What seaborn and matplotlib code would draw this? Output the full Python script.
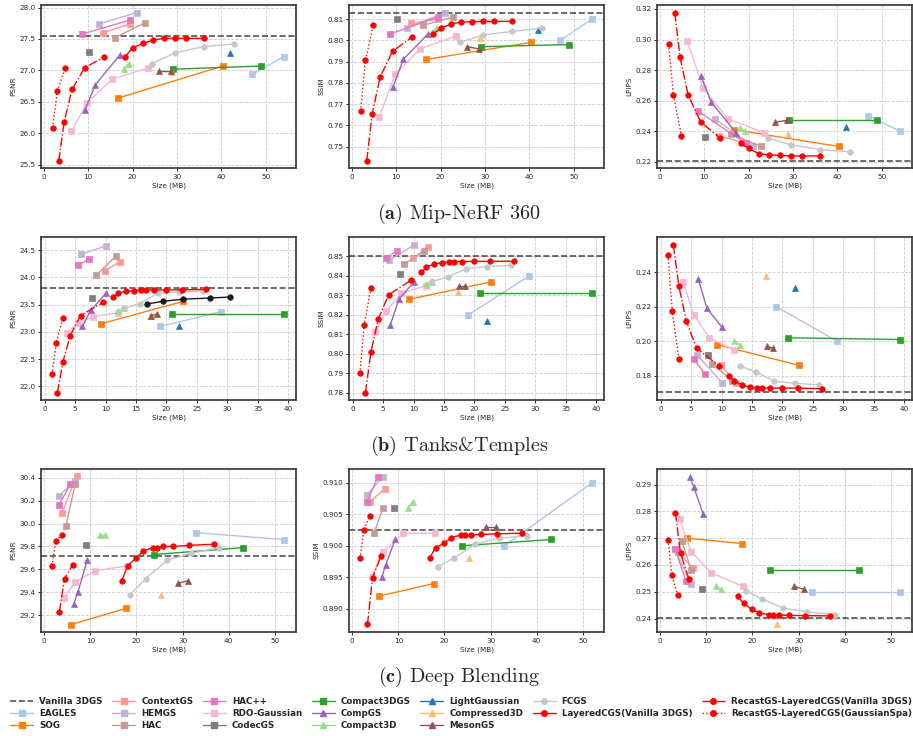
import numpy as np
import pandas as pd
import matplotlib
matplotlib.use("Agg")
import matplotlib.pyplot as plt
import seaborn as sns
from matplotlib.lines import Line2D

# ==============================
# Data
# ==============================

datasets = ["Mip-NeRF 360", "Tanks&Temples", "Deep Blending"]
captions = ["(a)", "(b)", "(c)"]
metrics = ["PSNR", "SSIM", "LPIPS"]

vanilla_psnr = [27.55, 23.80, 29.72]
vanilla_ssim = [0.813, 0.8502, 0.9025]
vanilla_lpips = [0.2205, 0.1705, 0.2404]

# each method: one (size, psnr, ssim, lpips) tuple per dataset
eagles = [
    ([47.0, 54.1], [26.94, 27.22], [0.800, 0.810], [0.250, 0.240]),
    ([19.0, 29.0], [23.10, 23.37], [0.820, 0.840], [0.220, 0.200]),
    ([33.0, 52.0], [29.92, 29.86], [0.900, 0.910], [0.250, 0.250]),
]
sog = [
    ([16.7, 40.3], [26.56, 27.07], [0.791, 0.799], [0.241, 0.230]),
    ([9.3, 22.8], [23.15, 23.56], [0.828, 0.837], [0.198, 0.186]),
    ([5.8, 17.7], [29.12, 29.26], [0.892, 0.894], [0.270, 0.268]),
]
contextgs = [
    ([13.3, 19.5], [27.60, 27.74], [0.808, 0.810], [0.237, 0.232]),
    ([9.9, 12.4], [24.12, 24.29], [0.849, 0.855], [0.186, 0.176]),
    ([3.8, 7.0], [30.09, 30.41], [0.907, 0.909], [0.265, 0.259]),
]
hemgs = [
    ([12.5, 21.0], [27.74, 27.92], [0.806, 0.813], [0.248, 0.230]),
    ([6.0, 10.1], [24.42, 24.58], [0.848, 0.856], [0.192, 0.176]),
    ([3.1, 6.7], [30.24, 30.37], [0.908, 0.911], [0.266, 0.253]),
]
hac = [
    ([16.0, 22.9], [27.52, 27.76], [0.807, 0.811], [0.238, 0.230]),
    ([8.5, 11.8], [24.04, 24.40], [0.846, 0.853], [0.187, 0.177]),
    ([4.7, 6.7], [29.98, 30.34], [0.902, 0.906], [0.269, 0.258]),
]
hacpp = [
    ([8.7, 19.4], [27.58, 27.80], [0.803, 0.811], [0.253, 0.232]),
    ([5.4, 7.3], [24.22, 24.33], [0.849, 0.853], [0.190, 0.181]),
    ([3.2, 5.6], [30.16, 30.34], [0.907, 0.911], [0.266, 0.254]),
]
rdo = [
    ([6.2, 9.8, 15.4, 23.5], [26.03, 26.49, 26.86, 27.04],
     [0.764, 0.784, 0.796, 0.802], [0.299, 0.268, 0.248, 0.239]),
    ([3.7, 5.5, 8.0, 12.0], [22.98, 23.16, 23.28, 23.35],
     [0.811, 0.822, 0.831, 0.835], [0.234, 0.215, 0.202, 0.195]),
    ([4.2, 6.7, 11.1, 18.0], [29.35, 29.49, 29.59, 29.63],
     [0.895, 0.899, 0.902, 0.902], [0.277, 0.265, 0.257, 0.252]),
]
codecgs = [
    ([10.3], [27.29], [0.810], [0.236]),
    ([7.8], [23.63], [0.841], [0.192]),
    ([9.1], [29.81], [0.906], [0.251]),
]
compact3dgs = [
    ([29.1, 48.9], [27.02, 27.07], [0.797, 0.798], [0.247, 0.247]),
    ([20.9, 39.4], [23.32, 23.32], [0.831, 0.831], [0.202, 0.201]),
    ([23.8, 43.2], [29.73, 29.79], [0.900, 0.901], [0.258, 0.258]),
]
compgs = [
    ([9.3, 11.6, 17.2], [26.37, 26.77, 27.25], [0.778, 0.791, 0.803], [0.276, 0.259, 0.239]),
    ([6.2, 7.6, 10.1], [23.10, 23.40, 23.71], [0.815, 0.828, 0.837], [0.236, 0.219, 0.208]),
    ([6.4, 7.3, 9.3], [29.30, 29.40, 29.68], [0.895, 0.897, 0.901], [0.293, 0.289, 0.279]),
]
compact3d = [
    ([18.1, 19.1], [27.02, 27.11], [0.804, 0.806], [0.242, 0.240]),
    ([12.1, 13.0], [23.39, 23.43], [0.836, 0.837], [0.200, 0.198]),
    ([12.1, 13.1], [29.90, 29.90], [0.906, 0.907], [0.252, 0.251]),
]
lightgaussian = [
    ([42.0], [27.28], [0.805], [0.243]),
    ([22.0], [23.10], [0.817], [0.231]),
    ([], [], [], []),
]
compressed3d = [
    ([28.8], [26.98], [0.801], [0.238]),
    ([17.3], [23.29], [0.832], [0.238]),
    ([25.3], [29.38], [0.898], [0.238]),
]
mesongs = [
    ([26.0, 28.6], [26.99, 26.99], [0.797, 0.796], [0.246, 0.247]),
    ([17.4, 18.5], [23.30, 23.32], [0.835, 0.835], [0.197, 0.196]),
    ([29.0, 31.1], [29.48, 29.50], [0.903, 0.903], [0.252, 0.251]),
]
fcgs = [
    ([24.3, 29.6, 36.1, 42.9], [27.11, 27.28, 27.38, 27.42],
     [0.799, 0.8025, 0.8042, 0.8058], [0.2355, 0.231, 0.228, 0.2265]),
    ([13.1, 15.6, 18.7, 22.1, 26.0], [23.43, 23.52, 23.71, 23.73, 23.75],
     [0.8372, 0.8395, 0.8437, 0.8448, 0.8455], [0.1855, 0.1823, 0.1769, 0.1756, 0.1748]),
    ([18.6, 22.0, 26.7, 31.8, 38.0], [29.38, 29.52, 29.68, 29.74, 29.79],
     [0.8967, 0.898, 0.9003, 0.9012, 0.9016], [0.2504, 0.2474, 0.2439, 0.2425, 0.2414]),
]
layered = [
    ([18.4, 20.0, 22.4, 24.5, 27.0, 29.6, 32.1, 36.2],
     [27.22, 27.36, 27.43, 27.48, 27.51, 27.51, 27.51, 27.51],
     [0.803, 0.8056, 0.8077, 0.8085, 0.8088, 0.8089, 0.8089, 0.8089],
     [0.2322, 0.2287, 0.2252, 0.2246, 0.2241, 0.2239, 0.2237, 0.2239]),
    ([11.3, 12.1, 13.4, 14.6, 15.8, 16.7, 18.0, 19.9, 22.6, 26.5],
     [23.64, 23.71, 23.75, 23.75, 23.77, 23.77, 23.77, 23.77, 23.77, 23.78],
     [0.8418, 0.8444, 0.8461, 0.8468, 0.8472, 0.8474, 0.8474, 0.8475, 0.8475, 0.8476],
     [0.1798, 0.1769, 0.1746, 0.1735, 0.1729, 0.1729, 0.1729, 0.1729, 0.1729, 0.1725]),
    ([16.8, 18.1, 19.9, 21.5, 23.5, 24.4, 25.8, 28.0, 31.4, 36.9],
     [29.50, 29.63, 29.70, 29.76, 29.79, 29.79, 29.80, 29.80, 29.81, 29.82],
     [0.8981, 0.8997, 0.9004, 0.9013, 0.9017, 0.9017, 0.9017, 0.9018, 0.9019, 0.902],
     [0.2483, 0.2457, 0.2434, 0.2422, 0.2414, 0.2414, 0.2413, 0.2412, 0.2411, 0.241]),
]
recast_vanilla = [
    ([3.4, 4.6, 6.4, 9.2, 13.5], [25.56, 26.18, 26.70, 27.04, 27.21],
     [0.7434, 0.7653, 0.7827, 0.7948, 0.8014], [0.3176, 0.2884, 0.2638, 0.2462, 0.2357]),
    ([2.1, 3.0, 4.2, 5.9, 9.6], [21.88, 22.45, 22.93, 23.30, 23.54],
     [0.780, 0.8008, 0.8178, 0.8302, 0.8378], [0.2555, 0.2318, 0.2118, 0.1961, 0.1855]),
    ([3.3, 4.4, 6.2], [29.23, 29.52, 29.64], [0.8875, 0.8949, 0.8983], [0.2795, 0.2643, 0.2549]),
]
recast_spa = [
    ([2.0, 3.1, 4.9], [26.09, 26.68, 27.04], [0.7667, 0.7906, 0.8073], [0.2969, 0.2636, 0.2370]),
    ([1.2, 1.9, 3.0], [22.22, 22.79, 23.26], [0.790, 0.8148, 0.8339], [0.2498, 0.2176, 0.1898]),
    ([1.7, 2.5, 3.8], [29.63, 29.85, 29.90], [0.898, 0.9025, 0.9047], [0.2693, 0.2561, 0.2488]),
]

# extra unlabeled black curve (Tanks&Temples, PSNR only)
black_tnt_size = [16.8, 19.4, 22.8, 27.2, 30.5]
black_tnt_psnr = [23.51, 23.56, 23.60, 23.62, 23.64]

# ==============================
# Styles
# ==============================

methods = [
    ("EAGLES", eagles, "#aec7e8", "s", "-"),
    ("SOG", sog, "#ff7f0e", "s", "-"),
    ("ContextGS", contextgs, "#ff9896", "s", "-"),
    ("HEMGS", hemgs, "#c5b0d5", "s", "-"),
    ("HAC", hac, "#c49c94", "s", "-"),
    ("HAC++", hacpp, "#e377c2", "s", "-"),
    ("RDO-Gaussian", rdo, "#f7b6d2", "s", "-"),
    ("CodecGS", codecgs, "#7f7f7f", "s", "-"),
    ("Compact3DGS", compact3dgs, "#2ca02c", "s", "-"),
    ("CompGS", compgs, "#9467bd", "^", "-"),
    ("Compact3D", compact3d, "#98df8a", "^", "-"),
    ("LightGaussian", lightgaussian, "#1f77b4", "^", "-"),
    ("Compressed3D", compressed3d, "#ffbb78", "^", "-"),
    ("MesonGS", mesongs, "#8c564b", "^", "-"),
    ("FCGS", fcgs, "#c7c7c7", "o", "-"),
    ("LayeredCGS(Vanilla 3DGS)", layered, "#ff0000", "o", "-"),
    ("RecastGS-LayeredCGS(Vanilla 3DGS)", recast_vanilla, "#ff0000", "o", "-."),
    ("RecastGS-LayeredCGS(GaussianSpa)", recast_spa, "#ff0000", "o", ":"),
]

vanilla = {"PSNR": vanilla_psnr, "SSIM": vanilla_ssim, "LPIPS": vanilla_lpips}

xlims = [(-0.6, 56.8), (-0.6, 41.3), (-0.7, 54.6)]
xticks = [np.arange(0, 51, 10), np.arange(0, 41, 5), np.arange(0, 51, 10)]
ylims = [
    [(25.45, 28.04), (0.740, 0.8166), (0.2159, 0.3226)],
    [(21.75, 24.74), (0.7763, 0.860), (0.166, 0.2603)],
    [(29.055, 30.475), (0.8863, 0.9122), (0.235, 0.2958)],
]
yticks = [
    [np.arange(25.5, 28.01, 0.5), np.arange(0.75, 0.8101, 0.01), np.arange(0.22, 0.3201, 0.02)],
    [np.arange(22.0, 24.51, 0.5), np.arange(0.78, 0.8501, 0.01), np.arange(0.18, 0.2401, 0.02)],
    [np.arange(29.2, 30.41, 0.2), np.arange(0.890, 0.9101, 0.005), np.arange(0.24, 0.2901, 0.01)],
]
yfmt = [
    ["{:.1f}", "{:.2f}", "{:.2f}"],
    ["{:.1f}", "{:.2f}", "{:.2f}"],
    ["{:.1f}", "{:.3f}", "{:.2f}"],
]

# ==============================
# Figure
# ==============================

sns.set_theme(style="ticks")
plt.rcParams["font.family"] = ["DejaVu Sans"]
plt.rcParams["mathtext.fontset"] = "cm"

fig = plt.figure(figsize=(9.13, 7.36), dpi=100)

lefts = [41 / 913, 349 / 913, 657 / 913]
bottoms = [1 - 168 / 736, 1 - 400 / 736, 1 - 632 / 736]
w, h = 255 / 913, 163 / 736

for d in range(3):
    for m, metric in enumerate(metrics):
        ax = fig.add_axes([lefts[m], bottoms[d], w, h])
        ax.axhline(vanilla[metric][d], color="k", ls="--", lw=1.2, alpha=0.75, zorder=2)

        for name, data, color, marker, ls in methods:
            size = data[d][0]
            vals = data[d][1 + m]
            if len(size) == 0:
                continue
            z = 5 if color == "#ff0000" else 3
            sns.lineplot(x=size, y=vals, ax=ax, color=color, marker=marker,
                         linestyle=ls, lw=1.0, markersize=4.0, mec=color, mew=0.5,
                         estimator=None, sort=False, legend=False, zorder=z)

        if d == 1 and metric == "PSNR":
            sns.lineplot(x=black_tnt_size, y=black_tnt_psnr, ax=ax, color="k",
                         marker="o", lw=1.0, markersize=4.0, mec="k", mew=0.5,
                         estimator=None, sort=False, legend=False, zorder=3)

        ax.set_xlim(*xlims[d])
        ax.set_ylim(*ylims[d][m])
        ax.set_xticks(xticks[d])
        ax.set_yticks(yticks[d][m])
        ax.set_yticklabels([yfmt[d][m].format(v) for v in yticks[d][m]])
        ax.set_xlabel("Size (MB)", fontsize=5.2, labelpad=2)
        ax.set_ylabel(metric, fontsize=5.2, labelpad=2)
        ax.tick_params(labelsize=5.2, length=2.5, width=0.7, pad=1.5)
        ax.grid(True, ls="--", lw=0.6, color="#cccccc")
        for sp in ax.spines.values():
            sp.set_color("#333333")
            sp.set_linewidth(1.2)

    cap_y = [1 - 214 / 736, 1 - 446 / 736, 1 - 677 / 736][d]
    fig.text(0.503, cap_y, r"$\mathbf{" + captions[d] + "}$ " + datasets[d],
             family="cmr10", fontsize=14.5, ha="center", va="center")

# ==============================
# Legend
# ==============================

handles = [Line2D([], [], color="k", ls="--", lw=1.2, alpha=0.75)]
labels = ["Vanilla 3DGS"]
for name, data, color, marker, ls in methods:
    handles.append(Line2D([], [], color=color, marker=marker, ls=ls, lw=1.0,
                          markersize=4.0, mec=color))
    labels.append(name)

fig.legend(handles, labels, loc="lower center", bbox_to_anchor=(0.505, -0.003),
           ncol=7, frameon=False, prop={"weight": "bold", "size": 6.3},
           handlelength=2.6, columnspacing=1.1, labelspacing=0.35, handletextpad=0.7)

fig.savefig("out.png", dpi=100)
